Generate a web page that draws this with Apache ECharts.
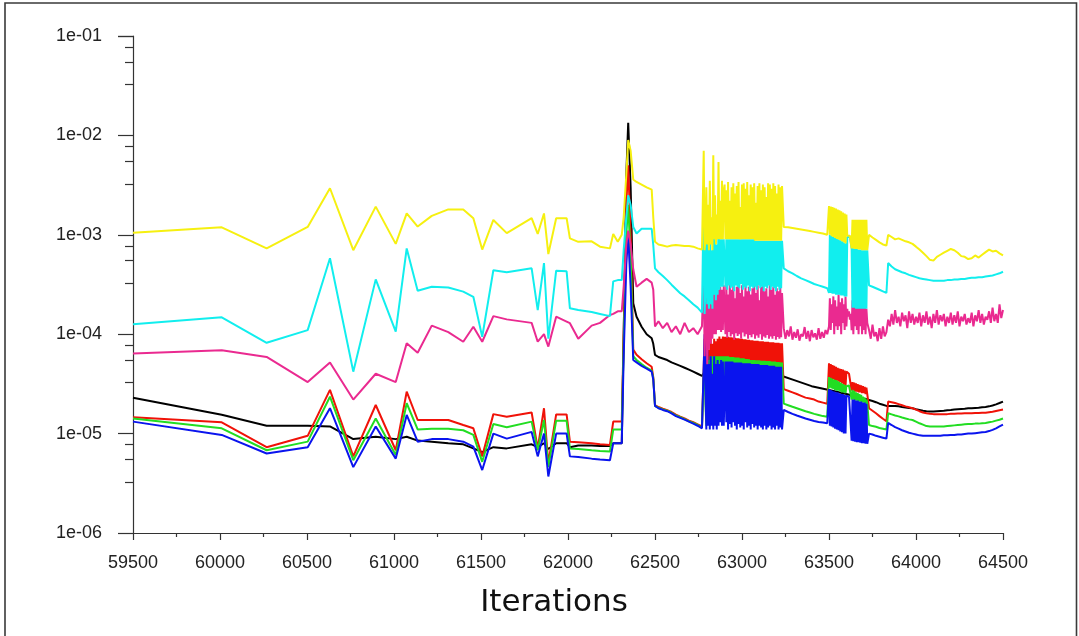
<!DOCTYPE html>
<html><head><meta charset="utf-8">
<script src="https://cdn.jsdelivr.net/npm/echarts@6/dist/echarts.min.js"></script>
<style>html,body{margin:0;padding:0;background:#fff}#c{width:1079px;height:636px}</style>
</head><body><div id="c"></div>
<script>
// ---------- iteration grids ----------
const coarseIter = [59500,60010,60268,60504,60632,60766,60895,61010,61073,61136,61217,61312,61398,61456,61507,61571,61648,61791,61826,61862,61887,61932,61992,62011,62059,62136,62184,62241,62260,62286,62309,
  62320,62335,62346,62360,62375,
  62394,62423,62452,62481,62490,62500,62520,62545,62570,62595,62620,62645,62670,62695,62720,62745,62770];
const dense1Iter = [62780,62785,62790,62795,62800,62805,62810,62815,62820,62825,
  62830,62835,62840,62845,62850,62855,62860,62865,62870,62875,
  62880,62885,62890,62895,62900,62905,62910,62915,62920,62925,
  62930,62935,62940,62945,62950,62955,62960,62965,62970,62975,
  62980,62985,62990,62995,63000,63005,63010,63015,63020,63025,
  63030,63035,63040,63045,63050,63055,63060,63065,63070,63075,
  63080,63085,63090,63095,63100,63105,63110,63115,63120,63125,
  63130,63135,63140,63145,63150,63155,63160,63165,63170,63175,
  63180,63185,63190,63195,63200,63205,63210,63215,63220,63225,
  63230];
const midIter = [63240,63265,63290,63315,63340,63365,63390,63415,63440,63465,63490];
const dense2Iter = [63500,63505,63510,63515,63520,63525,63530,63535,63540,63545,
  63550,63555,63560,63565,63570,63575,63580,63585,63590,63595,
  63600,63605,63610,63615,63620,63625,63630,63635,63640,63645,
  63650,63655,63660,63665,63670,63675,63680,63685,63690,63695,
  63700,63705,63710,63715,63720];
const tailIter = [63730,63750,63770,63790,63810,63830,63840,63860,63880,63900,63920,63940,63960,63980,64000,64020,64040,64060,64080,64100,64120,64140,64160,64180,64200,64220,64240,64260,64280,64300,64320,64340,64360,64380,64400,64420,64440,64460,64480,64500];
const blackMidIter = [62780,62800,62830,62900,63000,63100,63230,63300,63400,63500,63600,63720];
const magentaMidIter = [63240,63250,63260,63270,63280,63290,63300,63310,63320,63330,63340,63350,63360,63370,63380,63390,63400,63410,63420,63430,63440,63450,63460,63470,63480,63490];
const magentaTailIter = [63730,63740,63750,63760,63770,63780,63790,63800,63810,63820,
  63830,63840,63850,63860,63870,63880,63890,63900,63910,63920,
  63930,63940,63950,63960,63970,63980,63990,64000,64010,64020,
  64030,64040,64050,64060,64070,64080,64090,64100,64110,64120,
  64130,64140,64150,64160,64170,64180,64190,64200,64210,64220,
  64230,64240,64250,64260,64270,64280,64290,64300,64310,64320,
  64330,64340,64350,64360,64370,64380,64390,64400,64410,64420,
  64430,64440,64450,64460,64470,64480,64490,64500];

// ---------- yellow ----------
const yellowCoarse = [1.05e-3,1.19e-3,7.3e-4,1.2e-3,2.94e-3,7.0e-4,1.92e-3,8.1e-4,1.64e-3,1.21e-3,1.55e-3,1.8e-3,1.8e-3,1.47e-3,7.1e-4,1.41e-3,1.04e-3,1.47e-3,1.02e-3,1.64e-3,6.4e-4,1.47e-3,1.47e-3,9.2e-4,8.5e-4,8.6e-4,7.6e-4,7.3e-4,1.02e-3,8.5e-4,1.0e-3,
  1.5e-3,4e-3,9e-3,7e-3,3.6e-3,
  3.4e-3,3.2e-3,3.0e-3,2.85e-3,1.5e-3,8.5e-4,8.0e-4,7.8e-4,7.6e-4,7.8e-4,7.9e-4,7.8e-4,7.7e-4,7.7e-4,7.6e-4,7.3e-4,7.1e-4];
const yellowDense1 = [7.0e-3,7e-4,9e-4,3.0e-3,8e-4,2.0e-3,7e-4,3.5e-3,8e-4,1.5e-3,7e-4,6.3e-3,9e-4,2.5e-3,8e-4,1.6e-3,9e-4,5.4e-3,9e-4,2.2e-3,9e-4,3.5e-3,9e-4,2.8e-3,
  3.2e-3,9e-4,2.8e-3,9e-4,3.4e-3,9e-4,2.2e-3,9e-4,3.0e-3,9e-4,3.3e-3,9e-4,2.6e-3,9e-4,3.1e-3,9e-4,3.4e-3,9e-4,1.9e-3,9e-4,3.2e-3,9e-4,3.3e-3,9e-4,2.9e-3,9e-4,3.4e-3,9e-4,2.5e-3,9e-4,3.2e-3,9e-4,3.0e-3,9e-4,3.3e-3,
  8.7e-4,2.1e-3,8.7e-4,3.1e-3,8.7e-4,3.3e-3,8.7e-4,2.8e-3,8.7e-4,3.2e-3,8.7e-4,3.0e-3,8.7e-4,2.4e-3,8.7e-4,3.3e-3,8.7e-4,3.2e-3,8.7e-4,2.9e-3,8.7e-4,3.3e-3,8.7e-4,3.1e-3,8.7e-4,2.6e-3,8.7e-4,3.2e-3,8.7e-4,3.0e-3,8.7e-4,3.1e-3];
const yellowMid = [1.2e-3,1.19e-3,1.17e-3,1.15e-3,1.13e-3,1.11e-3,1.09e-3,1.07e-3,1.05e-3,1.03e-3,1.0e-3];
const yellowDense2 = [1.95e-3,1.0e-3,1.92e-3,9.7e-4,1.9e-3,9.5e-4,1.87e-3,9.3e-4,1.84e-3,9.1e-4,1.8e-3,9.0e-4,1.76e-3,8.8e-4,1.72e-3,8.6e-4,1.68e-3,8.4e-4,1.64e-3,8.2e-4,1.6e-3,
  9.8e-4,9.8e-4,9.8e-4,9.8e-4,9.8e-4,
  7.3e-4,1.42e-3,7.3e-4,1.42e-3,7.2e-4,1.42e-3,7.2e-4,1.42e-3,7.1e-4,1.42e-3,7.1e-4,1.42e-3,7.0e-4,1.42e-3,7.0e-4,1.42e-3,7.0e-4,1.42e-3,7.0e-4];
const yellowTail = [1.0e-3,9.4e-4,8.9e-4,8.4e-4,8.0e-4,7.8e-4,1.0e-3,9.5e-4,9.0e-4,9.2e-4,8.9e-4,8.6e-4,8.4e-4,8.1e-4,7.6e-4,7.1e-4,6.6e-4,6.1e-4,5.6e-4,5.5e-4,6.0e-4,6.3e-4,6.6e-4,6.9e-4,7.2e-4,7.0e-4,6.6e-4,6.1e-4,6.0e-4,5.7e-4,5.8e-4,6.2e-4,5.9e-4,6.3e-4,6.7e-4,7.1e-4,6.8e-4,6.9e-4,6.5e-4,6.2e-4];

// ---------- cyan ----------
const cyanCoarse = [1.26e-4,1.48e-4,8.2e-5,1.10e-4,5.8e-4,4.2e-5,3.56e-4,1.06e-4,7.3e-4,2.74e-4,3.0e-4,2.95e-4,2.68e-4,2.38e-4,9.4e-5,4.4e-4,4.2e-4,4.6e-4,1.75e-4,5.2e-4,9.0e-5,4.35e-4,4.3e-4,1.82e-4,1.75e-4,1.67e-4,1.6e-4,1.52e-4,3.4e-4,3.5e-4,3.5e-4,
  7e-4,1.5e-3,2.5e-3,2e-3,1.2e-3,
  1.03e-3,1.15e-3,1.15e-3,1.15e-3,7.9e-4,4.6e-4,4.2e-4,3.85e-4,3.5e-4,3.15e-4,2.85e-4,2.58e-4,2.4e-4,2.2e-4,2.0e-4,1.85e-4,1.65e-4];
const cyanDense1 = [2.6e-3,1.6e-4,3e-4,1.2e-3,2e-4,9e-4,1.8e-4,1.5e-3,2e-4,7e-4,1.8e-4,1.8e-3,2.5e-4,9e-4,2.2e-4,8e-4,2.5e-4,1.4e-3,2.8e-4,9e-4,3e-4,9e-4,3e-4,9e-4,
  9e-4,3.0e-4,9e-4,2.8e-4,9e-4,3.1e-4,9e-4,2.9e-4,9e-4,3.0e-4,9e-4,2.7e-4,9e-4,3.1e-4,9e-4,3.0e-4,9e-4,2.9e-4,9e-4,3.2e-4,9e-4,2.8e-4,9e-4,3.0e-4,9e-4,2.9e-4,9e-4,3.1e-4,9e-4,2.7e-4,9e-4,3.0e-4,9e-4,2.9e-4,9e-4,
  3.0e-4,8.7e-4,2.8e-4,8.7e-4,3.1e-4,8.7e-4,2.9e-4,8.7e-4,3.0e-4,8.7e-4,2.7e-4,8.7e-4,3.0e-4,8.7e-4,2.9e-4,8.7e-4,3.1e-4,8.7e-4,2.8e-4,8.7e-4,3.0e-4,8.7e-4,2.9e-4,8.7e-4,2.7e-4,8.7e-4,3.0e-4,8.7e-4,2.8e-4,8.7e-4,2.9e-4,8.7e-4];
const cyanMid = [4.6e-4,4.3e-4,4.1e-4,3.85e-4,3.65e-4,3.5e-4,3.35e-4,3.2e-4,3.1e-4,3.0e-4,2.9e-4];
const cyanDense2 = [2.6e-4,1.0e-3,2.6e-4,9.7e-4,2.55e-4,9.5e-4,2.55e-4,9.3e-4,2.5e-4,9.1e-4,2.5e-4,9.0e-4,2.5e-4,8.8e-4,2.45e-4,8.6e-4,2.45e-4,8.4e-4,2.4e-4,8.2e-4,2.4e-4,
  9.5e-4,9.5e-4,9.5e-4,9.5e-4,9.5e-4,
  7.3e-4,1.85e-4,7.3e-4,1.85e-4,7.2e-4,1.8e-4,7.2e-4,1.8e-4,7.1e-4,1.8e-4,7.1e-4,1.8e-4,7.0e-4,1.8e-4,7.0e-4,1.8e-4,7.0e-4,1.8e-4,7.0e-4];
const cyanTail = [3.1e-4,3.0e-4,2.9e-4,2.8e-4,2.7e-4,2.6e-4,5.2e-4,4.8e-4,4.5e-4,4.35e-4,4.2e-4,4.1e-4,3.95e-4,3.85e-4,3.75e-4,3.65e-4,3.6e-4,3.55e-4,3.5e-4,3.45e-4,3.45e-4,3.45e-4,3.45e-4,3.5e-4,3.5e-4,3.55e-4,3.55e-4,3.6e-4,3.6e-4,3.65e-4,3.7e-4,3.7e-4,3.75e-4,3.75e-4,3.8e-4,3.85e-4,3.9e-4,4.0e-4,4.1e-4,4.25e-4];

// ---------- magenta ----------
const magentaCoarse = [6.4e-5,6.9e-5,5.9e-5,3.3e-5,5.2e-5,2.2e-5,4.0e-5,3.3e-5,8.1e-5,6.5e-5,1.22e-4,1.05e-4,8.4e-5,1.19e-4,8.4e-5,1.52e-4,1.41e-4,1.3e-4,8.4e-5,1.0e-4,7.5e-5,1.5e-4,1.34e-4,1.29e-4,9.0e-5,1.22e-4,1.3e-4,1.56e-4,1.6e-4,1.7e-4,1.7e-4,
  3e-4,8e-4,1.1e-3,8e-4,4.5e-4,
  3.0e-4,3.3e-4,3.6e-4,3.3e-4,2.8e-4,1.2e-4,1.35e-4,1.15e-4,1.3e-4,1.05e-4,1.2e-4,1.0e-4,1.3e-4,1.05e-4,1.15e-4,1.0e-4,1.2e-4];
const magentaDense1 = [4.7e-4,6e-5,1.5e-4,3e-4,5e-5,2.5e-4,7e-5,3.5e-4,8e-5,2e-4,9e-5,3e-4,1e-4,2.5e-4,1e-4,3.2e-4,1.1e-4,2.8e-4,1.1e-4,3e-4,1.05e-4,2.8e-4,1.1e-4,3.1e-4,
  3.0e-4,1.0e-4,3.4e-4,9.2e-5,2.5e-4,1.05e-4,3.3e-4,9.5e-5,2.8e-4,1.0e-4,3.2e-4,8.8e-5,2.3e-4,1.02e-4,3.0e-4,9.6e-5,3.3e-4,1.0e-4,2.6e-4,9.0e-5,3.1e-4,1.04e-4,2.4e-4,9.5e-5,3.2e-4,1.0e-4,2.7e-4,9.0e-5,3.0e-4,9.8e-5,2.5e-4,9.3e-5,2.9e-4,1.0e-4,3.3e-4,
  9.0e-5,2.6e-4,9.7e-5,3.1e-4,9.2e-5,2.2e-4,1.0e-4,3.0e-4,8.8e-5,3.2e-4,9.5e-5,2.7e-4,9.2e-5,2.9e-4,9.8e-5,2.4e-4,9.0e-5,3.1e-4,9.5e-5,2.8e-4,9.0e-5,3.0e-4,9.6e-5,2.5e-4,8.8e-5,2.9e-4,9.4e-5,2.7e-4,9.0e-5,3.0e-4,9.3e-5,2.6e-4];
const magentaMid = [1.15e-4,9.0e-5,1.1e-4,9.5e-5,1.2e-4,8.8e-5,1.05e-4,9.2e-5,1.12e-4,8.6e-5,1.0e-4,9.5e-5,1.18e-4,9.0e-5,1.08e-4,8.5e-5,1.1e-4,9.3e-5,1.02e-4,8.8e-5,1.15e-4,9.0e-5,1.05e-4,9.2e-5,1.1e-4,1.0e-4];
const magentaDense2 = [1.2e-4,2.3e-4,1.1e-4,2.0e-4,1.3e-4,2.4e-4,1.0e-4,2.2e-4,1.2e-4,1.9e-4,1.1e-4,2.5e-4,1.2e-4,2.1e-4,1.0e-4,2.3e-4,1.3e-4,2.0e-4,1.1e-4,2.4e-4,1.2e-4,
  1.8e-4,1.5e-4,1.7e-4,1.4e-4,1.6e-4,
  1.1e-4,2.2e-4,1.0e-4,2.0e-4,1.2e-4,2.3e-4,1.1e-4,1.9e-4,1.0e-4,2.1e-4,1.2e-4,2.3e-4,1.0e-4,1.9e-4,1.1e-4,2.2e-4,1.0e-4,1.8e-4,1.3e-4];
const magentaTail = [1.1e-4,9.0e-5,1.25e-4,9.5e-5,1.05e-4,8.5e-5,1.15e-4,9.0e-5,1.2e-4,9.5e-5,1.05e-4,
  1.4e-4,1.2e-4,1.6e-4,1.25e-4,1.75e-4,1.3e-4,1.5e-4,1.2e-4,1.65e-4,1.35e-4,1.55e-4,1.15e-4,1.7e-4,1.3e-4,1.6e-4,1.25e-4,1.5e-4,
  1.3e-4,1.65e-4,1.2e-4,1.55e-4,1.3e-4,1.7e-4,1.25e-4,1.5e-4,1.15e-4,1.6e-4,1.3e-4,1.75e-4,1.25e-4,1.55e-4,1.35e-4,1.6e-4,1.2e-4,1.5e-4,1.3e-4,1.65e-4,
  1.25e-4,1.55e-4,1.3e-4,1.7e-4,1.2e-4,1.5e-4,1.35e-4,1.6e-4,1.25e-4,1.45e-4,1.3e-4,1.65e-4,1.2e-4,1.55e-4,1.35e-4,1.75e-4,1.3e-4,1.6e-4,1.25e-4,1.5e-4,
  1.4e-4,1.7e-4,1.3e-4,1.85e-4,1.35e-4,1.6e-4,1.3e-4,2.0e-4,1.45e-4,1.75e-4];

// ---------- black ----------
const blackCoarse = [2.3e-5,1.55e-5,1.2e-5,1.2e-5,1.18e-5,8.8e-6,9.3e-6,8.8e-6,9.3e-6,8.5e-6,8.3e-6,8.0e-6,7.8e-6,7.1e-6,6.5e-6,7.3e-6,7.1e-6,7.8e-6,7.3e-6,8.0e-6,7.0e-6,8.0e-6,8.0e-6,7.3e-6,7.6e-6,7.6e-6,7.5e-6,7.5e-6,8.0e-6,8.0e-6,8.0e-6,
  1e-4,4e-3,1.34e-2,3e-3,2.05e-4,
  1.5e-4,1.19e-4,1.0e-4,9.1e-5,8.0e-5,6.2e-5,5.9e-5,5.7e-5,5.5e-5,5.2e-5,5.0e-5,4.8e-5,4.6e-5,4.4e-5,4.2e-5,4.0e-5,3.8e-5];
const blackMid = [3.8e-5,4.6e-5,4.8e-5,4.4e-5,4.2e-5,4.0e-5,3.8e-5,3.45e-5,3.0e-5,2.75e-5,2.5e-5,2.2e-5];
const blackTail = [2.2e-5,2.13e-5,2.07e-5,2.0e-5,1.95e-5,1.9e-5,1.9e-5,1.9e-5,1.9e-5,1.88e-5,1.85e-5,1.83e-5,1.81e-5,1.8e-5,1.76e-5,1.73e-5,1.7e-5,1.68e-5,1.67e-5,1.67e-5,1.68e-5,1.69e-5,1.7e-5,1.72e-5,1.73e-5,1.75e-5,1.76e-5,1.77e-5,1.78e-5,1.8e-5,1.8e-5,1.81e-5,1.82e-5,1.84e-5,1.85e-5,1.88e-5,1.92e-5,1.97e-5,2.03e-5,2.1e-5];

// ---------- red ----------
const redCoarse = [1.46e-5,1.30e-5,7.3e-6,9.5e-6,2.75e-5,5.9e-6,1.94e-5,6.8e-6,2.64e-5,1.37e-5,1.37e-5,1.37e-5,1.22e-5,1.13e-5,5.9e-6,1.57e-5,1.48e-5,1.63e-5,7.1e-6,1.8e-5,5.0e-6,1.56e-5,1.56e-5,8.3e-6,8.2e-6,8.0e-6,7.8e-6,7.7e-6,1.32e-5,1.32e-5,1.32e-5,
  1e-4,2e-3,5e-3,1e-3,7e-5,
  6.2e-5,5.6e-5,5.1e-5,4.7e-5,3.7e-5,1.94e-5,1.85e-5,1.78e-5,1.72e-5,1.65e-5,1.55e-5,1.48e-5,1.42e-5,1.35e-5,1.3e-5,1.24e-5,1.18e-5];
const redDense1 = [1.2e-5,9e-5,3e-5,1.3e-5,8e-5,1.5e-5,7e-5,2e-5,9e-5,1.8e-5,8e-5,2.5e-5,9e-5,2.2e-5,8.5e-5,3e-5,9e-5,2.5e-5,9.5e-5,3e-5,9e-5,3.5e-5,9.5e-5,4e-5,
  9.4e-5,5.5e-5,9.4e-5,5.5e-5,9.4e-5,5.5e-5,9.3e-5,5.5e-5,9.3e-5,5.5e-5,9.2e-5,5.5e-5,9.2e-5,5.5e-5,9.1e-5,5.4e-5,9.1e-5,5.4e-5,9.0e-5,5.4e-5,9.0e-5,5.4e-5,8.9e-5,5.4e-5,8.9e-5,5.4e-5,8.8e-5,5.4e-5,8.8e-5,5.3e-5,8.7e-5,5.3e-5,8.7e-5,5.3e-5,8.6e-5,
  5.3e-5,8.6e-5,5.3e-5,8.6e-5,5.3e-5,8.5e-5,5.3e-5,8.5e-5,5.2e-5,8.5e-5,5.2e-5,8.4e-5,5.2e-5,8.4e-5,5.2e-5,8.4e-5,5.2e-5,8.3e-5,5.2e-5,8.3e-5,5.1e-5,8.3e-5,5.1e-5,8.2e-5,5.1e-5,8.2e-5,5.1e-5,8.2e-5,5.1e-5,8.1e-5,5.1e-5,8.1e-5];
const redMid = [2.8e-5,2.7e-5,2.6e-5,2.5e-5,2.4e-5,2.3e-5,2.25e-5,2.2e-5,2.1e-5,2.05e-5,2.0e-5];
const redDense2 = [5.1e-5,3.6e-5,5.0e-5,3.55e-5,4.9e-5,3.5e-5,4.8e-5,3.45e-5,4.7e-5,3.4e-5,4.6e-5,3.35e-5,4.5e-5,3.3e-5,4.45e-5,3.2e-5,4.4e-5,3.1e-5,4.3e-5,3.0e-5,4.2e-5,
  4.1e-5,4.05e-5,4.0e-5,3.95e-5,3.9e-5,
  2.7e-5,3.3e-5,2.7e-5,3.25e-5,2.65e-5,3.2e-5,2.65e-5,3.15e-5,2.6e-5,3.1e-5,2.6e-5,3.05e-5,2.55e-5,3.0e-5,2.55e-5,2.95e-5,2.5e-5,2.9e-5,2.5e-5];
const redTail = [1.8e-5,1.7e-5,1.6e-5,1.5e-5,1.41e-5,1.33e-5,2.1e-5,2.07e-5,2.03e-5,1.98e-5,1.93e-5,1.88e-5,1.84e-5,1.8e-5,1.74e-5,1.68e-5,1.63e-5,1.6e-5,1.58e-5,1.57e-5,1.57e-5,1.57e-5,1.57e-5,1.57e-5,1.58e-5,1.58e-5,1.59e-5,1.59e-5,1.6e-5,1.6e-5,1.6e-5,1.61e-5,1.61e-5,1.62e-5,1.62e-5,1.64e-5,1.66e-5,1.69e-5,1.72e-5,1.75e-5];

// ---------- green ----------
const greenCoarse = [1.42e-5,1.13e-5,6.8e-6,8.3e-6,2.35e-5,5.4e-6,1.42e-5,6.1e-6,2.02e-5,1.1e-5,1.12e-5,1.12e-5,1.08e-5,9.7e-6,5.2e-6,1.25e-5,1.16e-5,1.32e-5,6.8e-6,1.37e-5,4.6e-6,1.35e-5,1.35e-5,7.1e-6,7.0e-6,6.8e-6,6.7e-6,6.6e-6,1.1e-5,1.1e-5,1.1e-5,
  8e-5,1e-3,2e-3,6e-4,6e-5,
  5.5e-5,5.0e-5,4.6e-5,4.3e-5,3.6e-5,1.9e-5,1.82e-5,1.75e-5,1.7e-5,1.62e-5,1.52e-5,1.46e-5,1.4e-5,1.33e-5,1.28e-5,1.22e-5,1.15e-5];
const greenDense1 = [1.15e-5,7e-5,2e-5,1.2e-5,6e-5,1.4e-5,5.5e-5,1.8e-5,6e-5,1.6e-5,6e-5,2e-5,6e-5,2e-5,6e-5,2.5e-5,6e-5,2.2e-5,6e-5,2.5e-5,6e-5,3e-5,6e-5,3.5e-5,
  6.0e-5,4.8e-5,6.0e-5,4.8e-5,6.0e-5,4.8e-5,5.9e-5,4.8e-5,5.9e-5,4.8e-5,5.9e-5,4.8e-5,5.8e-5,4.8e-5,5.8e-5,4.7e-5,5.8e-5,4.7e-5,5.7e-5,4.7e-5,5.7e-5,4.7e-5,5.7e-5,4.7e-5,5.6e-5,4.7e-5,5.6e-5,4.7e-5,5.6e-5,4.6e-5,5.5e-5,4.6e-5,5.5e-5,4.6e-5,5.5e-5,
  4.6e-5,5.45e-5,4.6e-5,5.45e-5,4.6e-5,5.45e-5,4.6e-5,5.4e-5,4.5e-5,5.4e-5,4.5e-5,5.4e-5,4.5e-5,5.35e-5,4.5e-5,5.35e-5,4.5e-5,5.35e-5,4.5e-5,5.3e-5,4.4e-5,5.3e-5,4.4e-5,5.3e-5,4.4e-5,5.25e-5,4.4e-5,5.25e-5,4.4e-5,5.2e-5,4.4e-5,5.2e-5];
const greenMid = [2.0e-5,1.93e-5,1.86e-5,1.8e-5,1.74e-5,1.68e-5,1.63e-5,1.58e-5,1.54e-5,1.5e-5,1.48e-5];
const greenDense2 = [3.7e-5,2.9e-5,3.65e-5,2.85e-5,3.55e-5,2.8e-5,3.5e-5,2.75e-5,3.45e-5,2.7e-5,3.4e-5,2.7e-5,3.3e-5,2.65e-5,3.25e-5,2.6e-5,3.15e-5,2.6e-5,3.1e-5,2.55e-5,3.0e-5,
  3.1e-5,3.1e-5,3.05e-5,3.05e-5,3.0e-5,
  2.2e-5,2.75e-5,2.2e-5,2.7e-5,2.15e-5,2.6e-5,2.15e-5,2.55e-5,2.1e-5,2.5e-5,2.1e-5,2.45e-5,2.05e-5,2.35e-5,2.05e-5,2.3e-5,2.0e-5,2.2e-5,2.0e-5];
const greenTail = [1.22e-5,1.19e-5,1.17e-5,1.14e-5,1.12e-5,1.1e-5,1.6e-5,1.56e-5,1.52e-5,1.49e-5,1.45e-5,1.42e-5,1.39e-5,1.37e-5,1.32e-5,1.27e-5,1.23e-5,1.19e-5,1.18e-5,1.18e-5,1.18e-5,1.18e-5,1.18e-5,1.19e-5,1.2e-5,1.21e-5,1.22e-5,1.23e-5,1.24e-5,1.25e-5,1.25e-5,1.26e-5,1.26e-5,1.27e-5,1.28e-5,1.3e-5,1.32e-5,1.35e-5,1.38e-5,1.42e-5];

// ---------- blue ----------
const blueCoarse = [1.32e-5,9.7e-6,6.3e-6,7.3e-6,1.8e-5,4.6e-6,1.18e-5,5.6e-6,1.54e-5,8.3e-6,8.8e-6,8.8e-6,8.3e-6,7.4e-6,4.3e-6,1.0e-5,8.9e-6,1.04e-5,5.9e-6,1.0e-5,3.7e-6,1.0e-5,1.0e-5,5.9e-6,5.8e-6,5.6e-6,5.5e-6,5.4e-6,8.0e-6,8.0e-6,8.0e-6,
  6e-5,5e-4,1e-3,3e-4,5.5e-5,
  5.2e-5,4.8e-5,4.5e-5,4.2e-5,3.5e-5,1.9e-5,1.8e-5,1.73e-5,1.68e-5,1.6e-5,1.5e-5,1.44e-5,1.38e-5,1.32e-5,1.26e-5,1.2e-5,1.13e-5];
const blueDense1 = [1.1e-5,1e-4,3e-5,1.1e-5,7e-5,1.2e-5,5e-5,1.1e-5,6e-5,1.2e-5,4e-5,1.1e-5,6e-5,1.2e-5,5e-5,1.1e-5,5.5e-5,1.2e-5,5e-5,1.3e-5,5.5e-5,1.2e-5,5.3e-5,1.2e-5,
  1.2e-5,5.3e-5,1.3e-5,5.3e-5,1.1e-5,5.3e-5,1.25e-5,5.3e-5,1.15e-5,5.3e-5,1.3e-5,5.2e-5,1.2e-5,5.2e-5,1.1e-5,5.2e-5,1.25e-5,5.2e-5,1.15e-5,5.2e-5,1.2e-5,5.1e-5,1.1e-5,5.1e-5,1.3e-5,5.1e-5,1.15e-5,5.1e-5,1.2e-5,5.1e-5,1.1e-5,5.0e-5,1.25e-5,5.0e-5,1.15e-5,
  5.0e-5,1.2e-5,5.0e-5,1.1e-5,5.0e-5,1.2e-5,4.9e-5,1.15e-5,4.9e-5,1.1e-5,4.9e-5,1.2e-5,4.9e-5,1.1e-5,4.9e-5,1.15e-5,4.8e-5,1.2e-5,4.8e-5,1.1e-5,4.8e-5,1.15e-5,4.8e-5,1.1e-5,4.7e-5,1.2e-5,4.7e-5,1.1e-5,4.7e-5,1.15e-5,4.7e-5,1.1e-5];
const blueMid = [1.73e-5,1.65e-5,1.58e-5,1.52e-5,1.47e-5,1.42e-5,1.38e-5,1.34e-5,1.31e-5,1.29e-5,1.27e-5];
const blueDense2 = [2.8e-5,1.2e-5,2.75e-5,1.18e-5,2.7e-5,1.15e-5,2.65e-5,1.12e-5,2.6e-5,1.1e-5,2.6e-5,1.08e-5,2.55e-5,1.05e-5,2.5e-5,1.03e-5,2.5e-5,1.0e-5,2.45e-5,1.0e-5,2.4e-5,
  2.4e-5,2.4e-5,2.35e-5,2.35e-5,2.3e-5,
  8.5e-6,2.2e-5,8.4e-6,2.2e-5,8.3e-6,2.15e-5,8.2e-6,2.15e-5,8.2e-6,2.1e-5,8.1e-6,2.1e-5,8.0e-6,2.05e-5,8.0e-6,2.05e-5,7.9e-6,2.0e-5,7.9e-6];
const blueTail = [1.0e-5,9.8e-6,9.5e-6,9.3e-6,9.1e-6,8.9e-6,1.28e-5,1.22e-5,1.16e-5,1.12e-5,1.08e-5,1.05e-5,1.02e-5,1.0e-5,9.8e-6,9.6e-6,9.5e-6,9.5e-6,9.5e-6,9.5e-6,9.5e-6,9.5e-6,9.6e-6,9.6e-6,9.7e-6,9.7e-6,9.8e-6,9.8e-6,9.9e-6,1.0e-5,1.0e-5,1.01e-5,1.02e-5,1.03e-5,1.04e-5,1.06e-5,1.09e-5,1.13e-5,1.18e-5,1.23e-5];

// ---------- labels ----------
const yTickLabels = ['1e-06','1e-05','1e-04','1e-03','1e-02','1e-01'];
const xAxisTitle = 'Iterations';

function pairs(iters, vals) { return iters.map(function (x, i) { return [x, vals[i]]; }); }
function build(parts) {
  let out = [];
  parts.forEach(function (p) { out = out.concat(pairs(p[0], p[1])); });
  return out;
}

const FONT = 'Liberation Sans, Arial, sans-serif';
const seriesDefs = [
  ['black', '#000000', build([[coarseIter, blackCoarse], [blackMidIter, blackMid], [tailIter, blackTail]])],
  ['red', '#f01208', build([[coarseIter, redCoarse], [dense1Iter, redDense1], [midIter, redMid], [dense2Iter, redDense2], [tailIter, redTail]])],
  ['green', '#22dd22', build([[coarseIter, greenCoarse], [dense1Iter, greenDense1], [midIter, greenMid], [dense2Iter, greenDense2], [tailIter, greenTail]])],
  ['blue', '#0a14ee', build([[coarseIter, blueCoarse], [dense1Iter, blueDense1], [midIter, blueMid], [dense2Iter, blueDense2], [tailIter, blueTail]])],
  ['magenta', '#ea2a90', build([[coarseIter, magentaCoarse], [dense1Iter, magentaDense1], [magentaMidIter, magentaMid], [dense2Iter, magentaDense2], [magentaTailIter, magentaTail]])],
  ['cyan', '#11eeee', build([[coarseIter, cyanCoarse], [dense1Iter, cyanDense1], [midIter, cyanMid], [dense2Iter, cyanDense2], [tailIter, cyanTail]])],
  ['yellow', '#f6f010', build([[coarseIter, yellowCoarse], [dense1Iter, yellowDense1], [midIter, yellowMid], [dense2Iter, yellowDense2], [tailIter, yellowTail]])]
];

const chart = echarts.init(document.getElementById('c'), null, { renderer: 'canvas' });
chart.setOption({
  animation: false,
  backgroundColor: '#ffffff',
  grid: { left: 133, right: 76, top: 36, bottom: 103, containLabel: false, outerBoundsMode: 'none' },
  graphic: [{
    type: 'rect', silent: true,
    shape: { x: 5, y: 3, width: 1071.5, height: 660 },
    style: { fill: 'none', stroke: '#3a3a3a', lineWidth: 1.6 }
  }],
  xAxis: {
    type: 'value', min: 59500, max: 64500, interval: 500,
    name: xAxisTitle, nameLocation: 'middle', nameGap: 54,
    nameTextStyle: { fontFamily: 'DejaVu Sans, Verdana, sans-serif', fontSize: 31, color: '#111', padding: [0, 28, 0, 0], verticalAlign: 'top' },
    axisLine: { show: true, onZero: false, lineStyle: { color: '#333', width: 1.2 } },
    axisTick: { show: true, inside: false, length: 7, lineStyle: { color: '#333', width: 1.2 } },
    minorTick: { show: true, splitNumber: 2, length: 4, lineStyle: { color: '#333', width: 1.2 } },
    splitLine: { show: false }, minorSplitLine: { show: false },
    axisLabel: { fontFamily: FONT, fontSize: 18, color: '#222', margin: 21,
      formatter: function (v) { return String(v); } }
  },
  yAxis: {
    type: 'log', logBase: 10, min: 1e-6, max: 1e-1, splitNumber: 5,
    axisLine: { show: true, lineStyle: { color: '#333', width: 1.2 } },
    axisTick: { show: true, inside: false, length: 15, lineStyle: { color: '#333', width: 1.2 } },
    minorTick: { show: true, splitNumber: 4, length: 8, lineStyle: { color: '#333', width: 1.2 } },
    splitLine: { show: false }, minorSplitLine: { show: false },
    axisLabel: { fontFamily: FONT, fontSize: 18, color: '#222', margin: 31,
      formatter: function (v) { const k = Math.round(Math.log10(v)) + 6; return yTickLabels[k] || ''; } }
  },
  series: seriesDefs.map(function (s) {
    return {
      name: s[0], type: 'line', data: s[2], symbol: 'none', showSymbol: false,
      lineStyle: { color: s[1], width: 2 }, itemStyle: { color: s[1] },
      emphasis: { disabled: true }, silent: true, clip: true
    };
  })
});
</script></body></html>
